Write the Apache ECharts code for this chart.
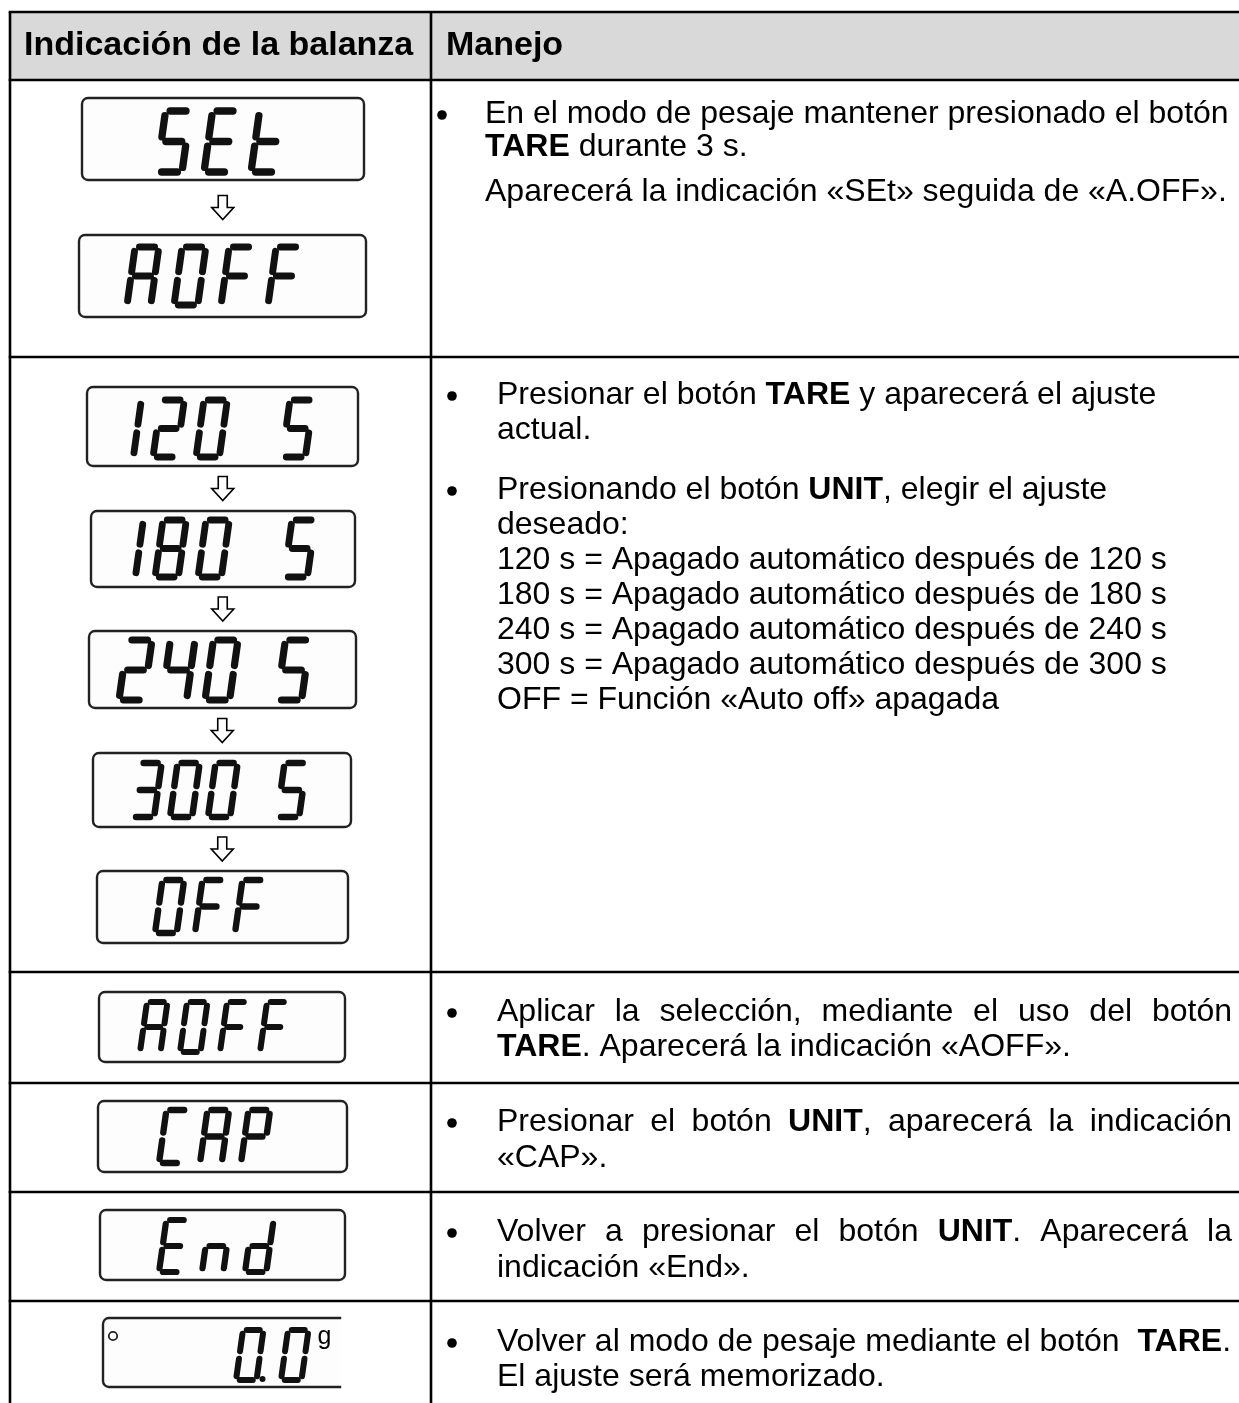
<!DOCTYPE html>
<html>
<head>
<meta charset="utf-8">
<script src="https://cdn.jsdelivr.net/npm/echarts@6/dist/echarts.min.js"></script>
<style>
html,body{margin:0;padding:0;background:#fff;}
#chart{width:1239px;height:1403px;}
</style>
</head>
<body>
<div id="chart"></div>
<script>
// ---------------- DATA ----------------
const HEADERS = ['Indicación de la balanza', 'Manejo'];

// LCD texts shown in each table row (left column)
const ROW1_DISPLAYS = ['SEt', 'AOFF'];
const ROW2_DISPLAYS = ['120 S', '180 S', '240 S', '300 S', 'OFF'];
const ROW3_DISPLAYS = ['AOFF'];
const ROW4_DISPLAYS = ['CAP'];
const ROW5_DISPLAYS = ['End'];
const ROW6_DISPLAYS = ['0.0'];
const DISPLAY_UNIT = 'g';

// Instructions (right column); **x** = bold
const ROW1_STEPS = [
  {bullet: true, lines: ['En el modo de pesaje mantener presionado el botón', '**TARE** durante 3 s.']},
  {bullet: false, lines: ['Aparecerá la indicación «SEt» seguida de «A.OFF».']}
];
const ROW2_STEPS = [
  {bullet: true, lines: ['Presionar el botón **TARE** y aparecerá el ajuste', 'actual.']},
  {bullet: true, lines: ['Presionando el botón **UNIT**, elegir el ajuste', 'deseado:',
    '120 s = Apagado automático después de 120 s',
    '180 s = Apagado automático después de 180 s',
    '240 s = Apagado automático después de 240 s',
    '300 s = Apagado automático después de 300 s',
    'OFF = Función «Auto off» apagada']}
];
const ROW3_STEPS = [{bullet: true, justify: true, lines: ['Aplicar la selección, mediante el uso del botón', '**TARE**. Aparecerá la indicación «AOFF».']}];
const ROW4_STEPS = [{bullet: true, justify: true, lines: ['Presionar el botón **UNIT**, aparecerá la indicación', '«CAP».']}];
const ROW5_STEPS = [{bullet: true, justify: true, lines: ['Volver a presionar el botón **UNIT**. Aparecerá la', 'indicación «End».']}];
const ROW6_STEPS = [{bullet: true, lines: ['Volver al modo de pesaje mediante el botón  **TARE**.', 'El ajuste será memorizado.']}];

// ---------------- LAYOUT ----------------
const FONT = '"Liberation Sans", Arial, sans-serif';
const FS = 32, HFS = 34;
const TABLE = {left: 10, top: 12, right: 1239, bottom: 1403, divider: 431, headerBottom: 80};
const ROW_LINES = [357, 972, 1083, 1192, 1301];

const rows = [
  {displays: ROW1_DISPLAYS, steps: ROW1_STEPS, tx: 485, bx: 442, ys: [114, 192], lh: 33,
   lcd: [{box: [82, 98, 282, 82], x0: 157, pitch: 47, ty: 111, th: 61},
         {box: [79, 235, 287, 82], x0: 127, pitch: 47, ty: 247, th: 58}]},
  {displays: ROW2_DISPLAYS, steps: ROW2_STEPS, tx: 497, bx: 452, ys: [395, 490], lh: 35,
   lcd: [{box: [87, 387, 271, 79], x0: 110, pitch: 43, ty: 400, th: 57},
         {box: [91, 511, 264, 76], x0: 112, pitch: 43, ty: 520, th: 57},
         {box: [89, 631, 267, 77], x0: 119, pitch: 43, ty: 640, th: 60, sp: 29},
         {box: [93, 753, 258, 74], x0: 132, pitch: 38, ty: 763, th: 54, sp: 31},
         {box: [97, 871, 251, 72], x0: 155, pitch: 40, ty: 880, th: 53}]},
  {displays: ROW3_DISPLAYS, steps: ROW3_STEPS, tx: 497, bx: 452, ys: [1012], lh: 35,
   lcd: [{box: [99, 992, 246, 70], x0: 140, pitch: 40, ty: 1002, th: 50}]},
  {displays: ROW4_DISPLAYS, steps: ROW4_STEPS, tx: 497, bx: 452, ys: [1122], lh: 36,
   lcd: [{box: [98, 1101, 249, 71], x0: 159, pitch: 41, ty: 1110, th: 53}]},
  {displays: ROW5_DISPLAYS, steps: ROW5_STEPS, tx: 497, bx: 452, ys: [1232], lh: 36,
   lcd: [{box: [100, 1210, 245, 70], x0: 159, pitch: 43, ty: 1220, th: 52}]},
  {displays: ROW6_DISPLAYS, steps: ROW6_STEPS, tx: 497, bx: 452, ys: [1342], lh: 35,
   lcd: [{box: [103, 1318, 237, 69], x0: 236, pitch: 45, ty: 1330, th: 50, open: true, unit: true}]}
];
const JUSTIFY_RIGHT = 1232;

// 7-segment definitions
const SEG = {a: [[0, 0], [1, 0]], b: [[1, 0], [1, .5]], c: [[1, .5], [1, 1]], d: [[0, 1], [1, 1]],
             e: [[0, .5], [0, 1]], f: [[0, 0], [0, .5]], g: [[0, .5], [1, .5]]};
const CHARS = {'0': 'abcdef', '1': 'bc', '2': 'abdeg', '3': 'abcdg', '4': 'bcfg', '5': 'acdfg', 'S': 'acdfg',
  '8': 'abcdefg', 'E': 'adefg', 't': 'defg', 'A': 'abcefg', 'O': 'abcdef', 'F': 'aefg', 'C': 'adef',
  'P': 'abefg', 'n': 'ceg', 'd': 'bcdeg'};
const DW = 0.41, DS = 0.14, DGAP = 0.075, DLW = 0.12;

// ---------------- BUILD ----------------
const g = [];
const ctx = document.createElement('canvas').getContext('2d');
function fontStr(bold, size) { return (bold ? 'bold ' : '') + size + 'px ' + FONT; }
function measure(t, bold, size) { ctx.font = fontStr(bold, size || FS); return ctx.measureText(t).width; }
function addText(t, x, y, bold, size) {
  g.push({type: 'text', x: x, y: y, silent: true,
    style: {text: t, font: fontStr(bold, size || FS), fill: '#000', align: 'left', verticalAlign: 'middle'}});
}
function parseRuns(line) {
  const parts = line.split('**');
  return parts.map((p, i) => ({t: p, b: i % 2 === 1})).filter(r => r.t.length);
}

// header background
g.push({type: 'rect', shape: {x: TABLE.left, y: TABLE.top, width: TABLE.right - TABLE.left, height: TABLE.headerBottom - TABLE.top},
  style: {fill: '#d9d9d9'}});
addText(HEADERS[0], 24, 46, true, HFS);
addText(HEADERS[1], 446, 46, true, HFS);

// table lines
const lineStyle = {stroke: '#000', lineWidth: 2.6};
[TABLE.top, TABLE.headerBottom].concat(ROW_LINES).forEach(y => {
  g.push({type: 'line', shape: {x1: TABLE.left - 1.3, y1: y, x2: TABLE.right, y2: y}, style: lineStyle});
});
[TABLE.left, TABLE.divider].forEach(x => {
  g.push({type: 'line', shape: {x1: x, y1: TABLE.top, x2: x, y2: TABLE.bottom}, style: lineStyle});
});

// LCD displays
function drawChar(ch, cx, cy, h) {
  const w = DW * h, s = DS * h, gap = DGAP * h, lw = DLW * h;
  const segs = CHARS[ch] || '';
  for (const k of segs) {
    const p = SEG[k];
    let x1 = p[0][0] * w, y1 = p[0][1] * h, x2 = p[1][0] * w, y2 = p[1][1] * h;
    const L = Math.hypot(x2 - x1, y2 - y1), dx = (x2 - x1) / L, dy = (y2 - y1) / L;
    x1 += dx * gap; y1 += dy * gap; x2 -= dx * gap; y2 -= dy * gap;
    const X1 = cx + x1 + s * (1 - y1 / h), Y1 = cy + y1;
    const X2 = cx + x2 + s * (1 - y2 / h), Y2 = cy + y2;
    g.push({type: 'line', shape: {x1: X1, y1: Y1, x2: X2, y2: Y2},
      style: {stroke: '#111', lineWidth: lw, lineCap: 'round'}});
  }
  return w;
}
function drawDisplay(text, L) {
  const [bx, by, bw, bh] = L.box;
  g.push({type: 'rect', shape: {x: bx, y: by, width: bw + (L.open ? 20 : 0), height: bh, r: 6},
    style: {fill: '#fdfdfd', stroke: '#222', lineWidth: 2.4}});
  if (L.open) {
    g.push({type: 'rect', shape: {x: bx + bw + 1.2, y: by - 3, width: 30, height: bh + 6}, style: {fill: '#fff'}});
    g.push({type: 'circle', shape: {cx: bx + 10, cy: by + 18, r: 4.2}, style: {fill: 'none', stroke: '#222', lineWidth: 1.8}});
  }
  let x = L.x0, lastX = x;
  for (const ch of text) {
    if (ch === ' ') { x += (L.sp || L.pitch); continue; }
    if (ch === '.') {
      g.push({type: 'circle', shape: {cx: lastX + DW * L.th + 6, cy: L.ty + L.th - 1, r: 0.06 * L.th},
        style: {fill: '#111'}});
      continue;
    }
    drawChar(ch, x, L.ty, L.th);
    lastX = x;
    x += L.pitch;
  }
  if (L.unit) {
    addText(DISPLAY_UNIT, lastX + (DW + DS) * L.th + 9, L.ty + 7, false, 25);
  }
}
function drawArrow(cx, cy) {
  const y0 = cy - 12;
  g.push({type: 'polygon', shape: {points: [[cx - 4.5, y0], [cx + 4.5, y0], [cx + 4.5, y0 + 12], [cx + 11, y0 + 12],
    [cx, y0 + 24], [cx - 11, y0 + 12], [cx - 4.5, y0 + 12]]},
    style: {fill: '#fff', stroke: '#000', lineWidth: 1.6, lineJoin: 'miter'}});
}

// instructions
function drawLine(line, x, y, justify) {
  const runs = parseRuns(line);
  if (!justify) {
    let cx = x;
    for (const r of runs) { addText(r.t, cx, y, r.b); cx += measure(r.t, r.b); }
    return;
  }
  const words = [];
  let cur = [];
  for (const r of runs) {
    const pieces = r.t.split(' ');
    pieces.forEach((p, i) => {
      if (i > 0) { if (cur.length) words.push(cur); cur = []; }
      if (p.length) cur.push({t: p, b: r.b});
    });
  }
  if (cur.length) words.push(cur);
  const widths = words.map(w => w.reduce((s, r) => s + measure(r.t, r.b), 0));
  const total = widths.reduce((a, b) => a + b, 0);
  const space = words.length > 1 ? (JUSTIFY_RIGHT - x - total) / (words.length - 1) : 0;
  let cx = x;
  words.forEach((w, i) => {
    let wx = cx;
    for (const r of w) { addText(r.t, wx, y, r.b); wx += measure(r.t, r.b); }
    cx += widths[i] + space;
  });
}

rows.forEach(row => {
  row.displays.forEach((txt, i) => {
    drawDisplay(txt, row.lcd[i]);
    if (i > 0) {
      const p = row.lcd[i - 1].box, c = row.lcd[i].box;
      drawArrow((p[0] + p[2] / 2 + c[0] + c[2] / 2) / 2, (p[1] + p[3] + c[1]) / 2);
    }
  });
  row.steps.forEach((st, si) => {
    const y0 = row.ys[si];
    if (st.bullet) g.push({type: 'circle', shape: {cx: row.bx, cy: y0 + 1, r: 4.8}, style: {fill: '#000'}});
    st.lines.forEach((ln, li) => {
      const isLast = li === st.lines.length - 1;
      drawLine(ln, row.tx, y0 + li * row.lh, st.justify && !isLast);
    });
  });
});

const chart = echarts.init(document.getElementById('chart'), null, {renderer: 'canvas', width: 1239, height: 1403});
chart.setOption({animation: false, backgroundColor: '#fff', graphic: {elements: g}});
</script>
</body>
</html>
